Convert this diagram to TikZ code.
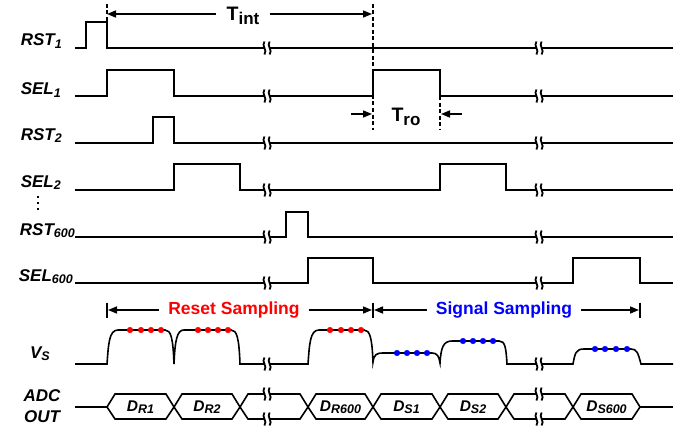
\documentclass[tikz,border=0pt]{standalone}
\usepackage{fontspec}
\setmainfont{Liberation Sans}
\usetikzlibrary{arrows.meta}

\newcommand\lo[1]{\raisebox{-2pt}{\fontsize{12.5}{12.5}\selectfont #1}}

\tikzset{
  sig/.style={line width=1.6pt},
  lbl/.style={font=\fontsize{17}{21}\selectfont\bfseries\itshape, anchor=base east, inner sep=0pt},
  dlbl/.style={font=\fontsize{15.5}{15.5}\selectfont\bfseries\itshape, inner sep=0pt},
  tlbl/.style={font=\fontsize{19.5}{19.5}\selectfont\bfseries, inner sep=0pt},
  phase/.style={font=\fontsize{17.5}{17.5}\selectfont\bfseries, inner xsep=9pt, inner ysep=0pt},
  dashln/.style={line width=1.4pt, dash pattern=on 4pt off 2.5pt},
  dimarr/.style={line width=1.5pt, -{Triangle[length=9pt,width=7pt]}},
  brk/.pic={
    \fill[white] (-2.6,-4) rectangle (2.6,4);
    \draw[line width=1.8pt] (-2.6,-6.5) .. controls (-6,-2) and (1,2) .. (-2.6,6.5);
    \draw[line width=1.8pt] (2.6,-6.5) .. controls (-0.8,-2) and (6.2,2) .. (2.6,6.5);
  }
}

\begin{document}
\begin{tikzpicture}[x=1pt,y=-1pt]
	\useasboundingbox (0,0) rectangle (683,428);
	% row labels
	\node[lbl] (rst1) at (62,46) {RST\lo{1}};
	\node[lbl] (sel1) at (61,95) {SEL\lo{1}};
	\node[lbl] (rst2) at (62,140) {RST\lo{2}};
	\node[lbl] (sel2) at (61,187) {SEL\lo{2}};
	\foreach \y in {197,203,209}
		\fill (36.8,\y-1.3) rectangle (39.4,\y+1.3);
	\node[lbl] (rst600) at (75,235) {RST\lo{600}};
	\node[lbl] (sel600) at (73,281) {SEL\lo{600}};
	\node[lbl] (vs) at (50,358) {V\lo{S}};
	\node[lbl, anchor=center, align=center] (adc) at (42,406) {ADC\\OUT};

	% control signals
	\draw[sig] (75,48) -| (86,22) -| (107,48) -- (673,48);
	\draw[sig] (75,96) -| (107,70) -| (174,96) -| (373,70) -| (440,96) -- (673,96);
	\draw[sig] (75,143) -| (153,117) -| (174,143) -- (673,143);
	\draw[sig] (75,190) -| (174,164) -| (240,190) -| (440,164) -| (506,190) -- (673,190);
	\draw[sig] (75,237) -| (286,212) -| (308,237) -- (673,237);
	\draw[sig] (75,283) -| (308,258) -| (373,283) -| (573,258) -| (640,283) -- (673,283);

	% column output V_S
	\draw[sig] (75,364) -- (107,364) .. controls (108.5,344) and (109,330) .. (118,330) -- (165,330)
		.. controls (171,330) and (173,338) .. (174,364) .. controls (175,340) and (177,330) .. (184,330) -- (231,330)
		.. controls (237,330) and (239,338) .. (240,364) -- (308,364)
		.. controls (309.5,344) and (310,330) .. (319,330) -- (364,330)
		.. controls (370,330) and (372,338) .. (373,362) .. controls (374,355) and (376,353) .. (383,353) -- (432,353)
		.. controls (437,353) and (439,356) .. (440,363) .. controls (441,348) and (443,341) .. (452,341) -- (499,341)
		.. controls (505,341) and (506,347) .. (507,364) -- (573,364)
		.. controls (575,353) and (576,349) .. (584,349) -- (631,349)
		.. controls (637,349) and (638,353) .. (641,364) -- (673,364);
	\foreach \x in {130,141,151,161,198,208,218,228,330,341,351,361}
		\filldraw[red] (\x,330) circle (2.8pt);
	\foreach \x in {397,407,417,427}
		\filldraw[blue] (\x,353) circle (2.8pt);
	\foreach \x in {463,473,483,493}
		\filldraw[blue] (\x,341) circle (2.8pt);
	\foreach \x in {595,605,616,627}
		\filldraw[blue] (\x,349) circle (2.8pt);

	% ADC output words
	\draw[sig] (75,407) -- (107,407);
	\draw[sig] (640,407) -- (673,407);
	\foreach \a/\b in {107/174,174/240,240/308,308/373,373/440,440/506,506/573,573/640}
		\draw[sig] (\a,407) -- (\a+8,394) -- (\b-8,394) -- (\b,407) -- (\b-8,419) -- (\a+8,419) -- cycle;
	\node[dlbl] (dr1) at (140.5,407) {D\lo{R1}};
	\node[dlbl] (dr2) at (207,407) {D\lo{R2}};
	\node[dlbl] (dr600) at (340.5,407) {D\lo{R600}};
	\node[dlbl] (ds1) at (406.5,407) {D\lo{S1}};
	\node[dlbl] (ds2) at (473,407) {D\lo{S2}};
	\node[dlbl] (ds600) at (606.5,407) {D\lo{S600}};

	% time breaks
	\foreach \y in {48,96,143,190,237,283,364,394,419}
		\foreach \x in {267,539}
			\pic at (\x,\y) {brk};

	% integration and readout times
	\draw[dashln] (107,4) -- (107,22);
	\draw[dashln] (373,4) -- (373,130);
	\draw[dashln] (440,96) -- (440,130);
	\coordinate (intA) at (107,14);
	\coordinate (intB) at (372,14);
	\node[tlbl, inner xsep=10pt] (tint) at (243,16) {T\raisebox{-4pt}{\fontsize{17}{17}\selectfont int}};
	\draw[dimarr] (tint.west |- intA) -- (intA);
	\draw[dimarr] (tint.east |- intB) -- (intB);
	\coordinate (roA) at (372,114);
	\coordinate (roB) at (441,114);
	\coordinate (roAs) at (351,114);
	\coordinate (roBs) at (462,114);
	\node[tlbl] (tro) at (406,117) {T\raisebox{-4pt}{\fontsize{17}{17}\selectfont ro}};
	\draw[dimarr] (roAs) -- (roA);
	\draw[dimarr] (roBs) -- (roB);

	% sampling phases
	\coordinate (phA) at (107,310);
	\coordinate (phB) at (373,310);
	\coordinate (phC) at (640,310);
	\foreach \p in {phA,phB,phC}
		\draw[sig] (\p) ++(0,-7.5) -- ++(0,15);
	\node[phase, text=red] (reset) at (234,310) {Reset Sampling};
	\node[phase, text=blue] (signal) at (504,310) {Signal Sampling};
	\draw[dimarr] (reset.west) -- ([xshift=1pt]phA);
	\draw[dimarr] (reset.east) -- ([xshift=-1pt]phB);
	\draw[dimarr] (signal.west) -- ([xshift=1pt]phB);
	\draw[dimarr] (signal.east) -- ([xshift=-1pt]phC);
\end{tikzpicture}
\end{document}
